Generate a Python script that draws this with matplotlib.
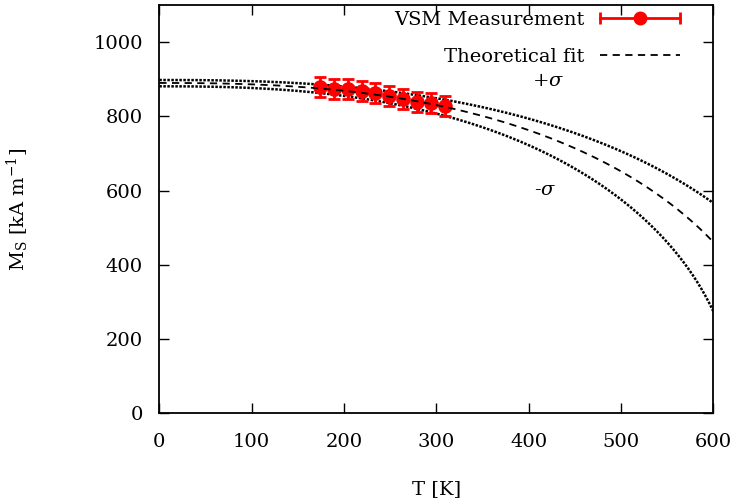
import numpy as np
import matplotlib
matplotlib.use("Agg")
import matplotlib.pyplot as plt
from matplotlib.lines import Line2D
from matplotlib.legend_handler import HandlerBase

# Measured data (VSM)
T_meas = [174, 189, 204, 219, 234, 249, 264, 279, 294, 309]
Ms_meas = [878, 875, 873, 868, 864, 854, 848, 839, 835, 827]
Ms_err = [27, 27, 27, 27, 27, 27, 27, 27, 27, 27]

# Theoretical fit parameters: M(T) = M0 * (1 - (T/Tc)^a)^b
fit_M0, fit_Tc = 890.0, 680.0
plus_M0, plus_Tc = 898.0, 735.0
minus_M0, minus_Tc = 881.0, 625.0
exp_a, exp_b = 2.5, 0.5

x_ticks = [0, 100, 200, 300, 400, 500, 600]
y_ticks = [0, 200, 400, 600, 800, 1000]

plt.rcParams['font.family'] = ['DejaVu Serif']
plt.rcParams['mathtext.fontset'] = 'dejavuserif'
FS = 14


def model(T, M0, Tc):
    T = np.asarray(T, dtype=float)
    return M0 * np.clip(1 - (T / Tc) ** exp_a, 0, None) ** exp_b


class HandlerXErr(HandlerBase):
    def create_artists(self, legend, orig_handle, xdescent, ydescent,
                       width, height, fontsize, trans):
        y = height / 2 - ydescent
        x0, x1 = -xdescent, width - xdescent
        line = Line2D([x0, x1], [y, y], color='red', lw=2)
        caps = Line2D([x0, x1], [y, y], ls='none', marker='|', ms=8, mew=2, color='red')
        dot = Line2D([(x0 + x1) / 2], [y], ls='none', marker='o', ms=9, color='red')
        for a in (line, caps, dot):
            a.set_transform(trans)
        return [line, caps, dot]


fig = plt.figure(figsize=(7.38, 5.01), dpi=100)
ax = fig.add_axes([0.2159, 0.175, 0.7507, 0.815])

T = np.linspace(0, 600, 600)
ax.plot(T, model(T, plus_M0, plus_Tc), color='black', linestyle=(0, (1, 0.6)), lw=1.8)
ax.plot(T, model(T, minus_M0, minus_Tc), color='black', linestyle=(0, (1, 0.6)), lw=1.8)
eb = ax.errorbar(T_meas, Ms_meas, yerr=Ms_err, fmt='o', color='red', ms=9.5, lw=2,
                 capsize=4.5, capthick=2, zorder=3)
fit_line, = ax.plot(T, model(T, fit_M0, fit_Tc), color='black', linestyle=(0, (4, 3)),
                    lw=1.3, zorder=4)

ax.text(421, 895, r'+$\sigma$', fontsize=FS, ha='center', va='center')
ax.text(418, 601, r'-$\sigma$', fontsize=FS, ha='center', va='center')

ax.set_xlim(0, 600)
ax.set_ylim(0, 1100)
ax.set_xticks(x_ticks)
ax.set_yticks(y_ticks)
ax.tick_params(direction='in', length=7, width=1, top=True, right=True, labelsize=FS)
ax.tick_params(axis='x', pad=14)
ax.tick_params(axis='y', pad=12)
for s in ax.spines.values():
    s.set_linewidth(1.3)

ax.set_xlabel('T [K]', fontsize=FS, labelpad=21)
ax.set_ylabel(r'M$_\mathrm{S}$ [kA m$^{-1}$]', fontsize=FS, labelpad=45)

ax.legend([eb, fit_line], ['VSM Measurement', 'Theoretical fit'],
          handler_map={type(eb): HandlerXErr()},
          loc='upper right', frameon=False, markerfirst=False, fontsize=FS,
          handlelength=4.1, handletextpad=0.8, borderaxespad=0, borderpad=0,
          labelspacing=0.95, bbox_to_anchor=(0.94, 0.985))

fig.savefig('out.png', dpi=100)
